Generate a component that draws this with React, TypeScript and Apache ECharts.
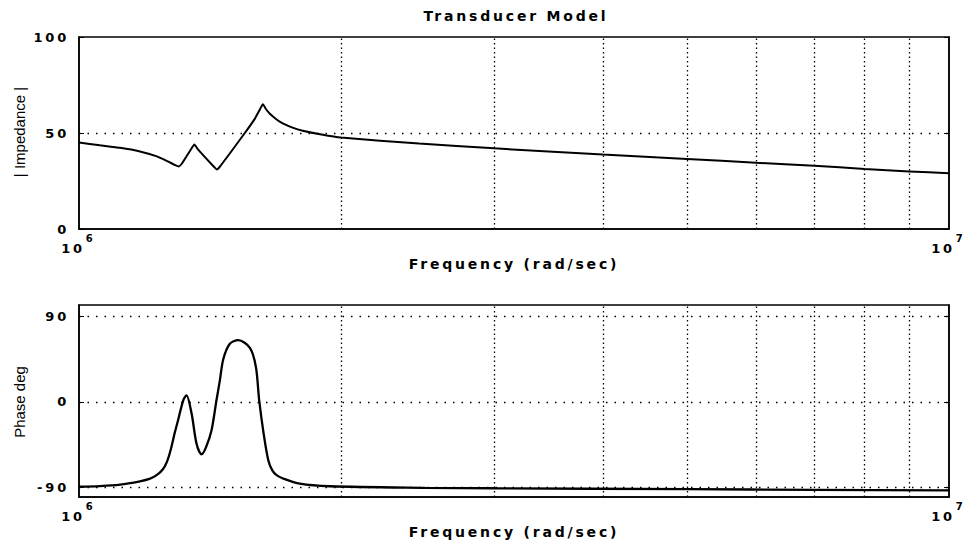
import React, { useEffect, useRef } from 'react';
import * as echarts from 'echarts';

// Frequencies in rad/sec
const magFreqs = [
  1.0e6, 1.057e6, 1.115e6, 1.175e6, 1.229e6, 1.265e6, 1.29e6, 1.302e6, 1.315e6,
  1.345e6, 1.357e6, 1.37e6, 1.43e6, 1.44e6, 1.452e6, 1.551e6, 1.593e6, 1.615e6,
  1.627e6, 1.64e6, 1.657e6, 1.69e6, 1.715e6, 1.76e6, 1.808e6, 1.9e6, 2.0e6,
  2.46e6, 3.0e6, 4.0e6, 5.0e6, 6.0e6, 7.0e6, 8.0e6, 9.0e6, 1.0e7,
];
const magValues = [
  45.0, 43.6, 42.3, 40.4, 37.8, 35.2, 33.3, 32.6, 34.5,
  41.5, 44.0, 41.5, 32.3, 31.0, 32.5, 50.0, 57.5, 62.5,
  65.0, 62.5, 60.0, 56.8, 55.0, 52.8, 51.2, 49.2, 47.6,
  44.5, 42.0, 38.8, 36.5, 34.5, 33.0, 31.2, 30.0, 29.0,
];

const phaseFreqs = [
  1.0e6, 1.057e6, 1.115e6, 1.175e6, 1.205e6, 1.228e6, 1.248e6, 1.262e6, 1.275e6,
  1.288e6, 1.3e6, 1.318e6, 1.329e6, 1.347e6, 1.365e6, 1.383e6, 1.399e6, 1.42e6,
  1.439e6, 1.452e6, 1.465e6, 1.49e6, 1.524e6, 1.572e6, 1.597e6, 1.611e6, 1.63e6,
  1.65e6, 1.668e6, 1.687e6, 1.716e6, 1.794e6, 1.942e6, 2.5e6, 3.0e6, 5.0e6,
  7.0e6, 1.0e7,
];
const phaseValues = [
  -89.0, -88.5, -87.0, -83.5, -81, -77, -71, -63, -50,
  -33, -19, 2, 7, -12, -44, -55, -48, -30,
  2, 23, 45, 61, 65, 57, 37, 2, -33,
  -61, -72, -77, -80.5, -86, -88.7, -90.3, -90.8, -91.8,
  -92.4, -93,
];

const gridFreqs = [2e6, 3e6, 4e6, 5e6, 6e6, 7e6, 8e6, 9e6];
const magGridValues = [50];
const magTicks = [0, 50, 100];
const phaseTicks = [-90, 0, 90];

const FAMILY = '"Liberation Sans", Arial, Helvetica, sans-serif';
const BOLD_FAMILY = '"DejaVu Sans", Verdana, sans-serif';

const css = `
.tchart text[style*="bold"], .tchart text[font-weight="bold"] { letter-spacing: 2.8px; }
`;

function zip(xs: number[], ys: number[]) {
  return xs.map((x, i) => [x, ys[i]]);
}

export default function App() {
  const ref = useRef<HTMLDivElement>(null);

  useEffect(() => {
    if (!ref.current) return;
    const chart = echarts.init(ref.current, null, { renderer: 'svg' });

    const boldLabel = {
      fontFamily: BOLD_FAMILY,
      fontWeight: 'bold' as const,
      fontSize: 13,
      color: '#000',
    };

    const makeX = (gridIndex: number) => ({
      type: 'log',
      logBase: 10,
      gridIndex,
      min: 1e6,
      max: 1e7,
      name: 'Frequency (rad/sec)',
      nameLocation: 'middle',
      nameGap: 28,
      nameTextStyle: { ...boldLabel, fontSize: 14 },
      axisLine: { show: true, onZero: false, lineStyle: { color: '#000', width: 1.5 } },
      axisTick: { show: false },
      minorTick: { show: false },
      splitLine: { show: false },
      axisLabel: {
        margin: 4,
        showMinLabel: true,
        showMaxLabel: true,
        formatter: (v: number) => `{b|10}{s|${Math.round(Math.log10(v))}}`,
        rich: {
          b: { ...boldLabel, fontSize: 13, lineHeight: 22, verticalAlign: 'bottom' },
          s: { ...boldLabel, fontSize: 10, lineHeight: 11, verticalAlign: 'top', padding: [0, 0, 0, 5] },
        },
      },
    });

    const makeY = (gridIndex: number, min: number, max: number, ticks: number[]) => ({
      type: 'value',
      gridIndex,
      min,
      max,
      axisLine: { show: true, onZero: false, lineStyle: { color: '#000', width: 1.5 } },
      axisTick: { show: true, inside: true, length: 5, lineStyle: { color: '#000' }, customValues: ticks },
      splitLine: { show: false },
      axisLabel: { ...boldLabel, margin: 10, customValues: ticks },
    });

    const makeYRight = (gridIndex: number, min: number, max: number, ticks: number[]) => ({
      type: 'value',
      gridIndex,
      min,
      max,
      position: 'right',
      axisLine: { show: true, onZero: false, lineStyle: { color: '#000', width: 1.5 } },
      axisTick: { show: true, inside: true, length: 5, lineStyle: { color: '#000' }, customValues: ticks },
      splitLine: { show: false },
      axisLabel: { show: false, customValues: ticks },
    });

    const gridLineStyleV = { color: '#000', width: 1.3, type: [1.5, 3] };
    const gridLineStyleH = { color: '#000', width: 1.3, type: [1.5, 7] };

    const markLine = (hValues: number[]) => ({
      silent: true,
      symbol: 'none',
      label: { show: false },
      emphasis: { disabled: true },
      animation: false,
      lineStyle: gridLineStyleV,
      data: [
        ...gridFreqs.map((f) => ({ xAxis: f, lineStyle: gridLineStyleV })),
        ...hValues.map((v) => ({ yAxis: v, lineStyle: gridLineStyleH })),
      ],
    });

    const option: any = {
      animation: false,
      backgroundColor: '#fff',
      grid: [
        { left: 79, right: 17, top: 37, height: 192, show: true, borderColor: '#000', borderWidth: 1.5, backgroundColor: 'transparent' },
        { left: 79, right: 17, top: 305, height: 192, show: true, borderColor: '#000', borderWidth: 1.5, backgroundColor: 'transparent' },
      ],
      xAxis: [makeX(0), makeX(1)],
      yAxis: [
        makeY(0, 0, 100, magTicks),
        makeY(1, -100, 102, phaseTicks),
        makeYRight(0, 0, 100, magTicks),
        makeYRight(1, -100, 102, phaseTicks),
      ],
      graphic: [
        {
          type: 'text',
          x: 516,
          y: 16,
          style: { text: 'Transducer Model', font: `bold 14px ${BOLD_FAMILY}`, fill: '#000', textAlign: 'center', textVerticalAlign: 'middle' },
        },
        {
          type: 'text',
          x: 19,
          y: 132,
          rotation: Math.PI / 2,
          style: { text: '| Impedance |', font: `15px ${FAMILY}`, fill: '#000', textAlign: 'center', textVerticalAlign: 'middle' },
        },
        {
          type: 'text',
          x: 19,
          y: 402,
          rotation: Math.PI / 2,
          style: { text: 'Phase deg', font: `15px ${FAMILY}`, fill: '#000', textAlign: 'center', textVerticalAlign: 'middle' },
        },
      ],
      series: [
        {
          type: 'line',
          xAxisIndex: 0,
          yAxisIndex: 0,
          data: zip(magFreqs, magValues),
          symbol: 'none',
          showSymbol: false,
          smooth: 0.15,
          lineStyle: { color: '#000', width: 2 },
          emphasis: { disabled: true },
          z: 5,
          markLine: markLine(magGridValues),
        },
        {
          type: 'line',
          xAxisIndex: 1,
          yAxisIndex: 1,
          data: zip(phaseFreqs, phaseValues),
          symbol: 'none',
          showSymbol: false,
          smooth: 0.3,
          lineStyle: { color: '#000', width: 2.3 },
          emphasis: { disabled: true },
          z: 5,
          markLine: markLine(phaseTicks),
        },
      ],
    };

    chart.setOption(option);
    return () => chart.dispose();
  }, []);

  return (
    <div className="tchart" style={{ position: 'absolute', left: 0, top: 0, width: 967, height: 544, background: '#fff' }}>
      <style>{css}</style>
      <div ref={ref} style={{ width: 967, height: 544 }} />
    </div>
  );
}
